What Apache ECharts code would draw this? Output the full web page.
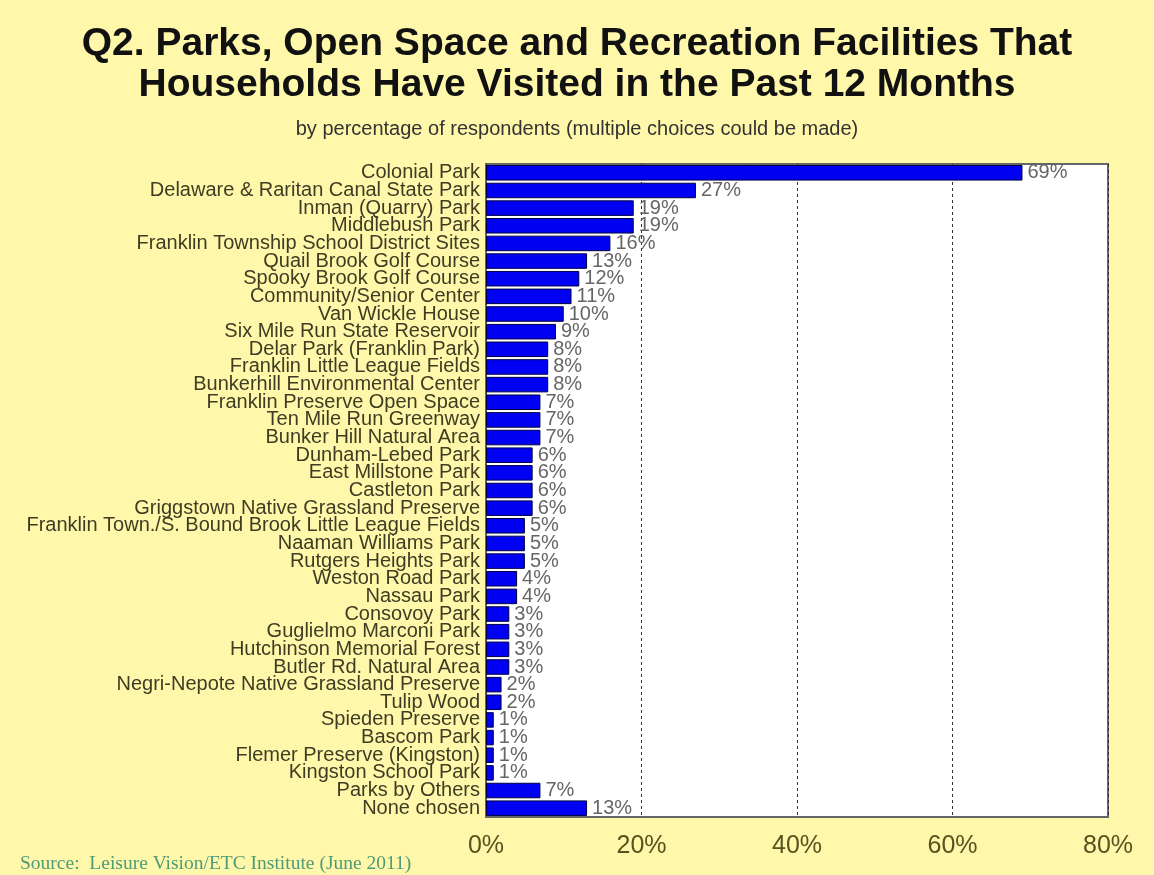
<!DOCTYPE html>
<html>
<head>
<meta charset="utf-8">
<script src="https://cdn.jsdelivr.net/npm/echarts@6/dist/echarts.min.js"></script>
<style>
  html, body { margin: 0; padding: 0; background: #fff7aa; }
  #chart { width: 1154px; height: 875px; }
</style>
</head>
<body>
<div id="chart"></div>
<script>
// Facilities visited, in display order (top to bottom)
const facilities = [
  'Colonial Park',
  'Delaware & Raritan Canal State Park',
  'Inman (Quarry) Park',
  'Middlebush Park',
  'Franklin Township School District Sites',
  'Quail Brook Golf Course',
  'Spooky Brook Golf Course',
  'Community/Senior Center',
  'Van Wickle House',
  'Six Mile Run State Reservoir',
  'Delar Park (Franklin Park)',
  'Franklin Little League Fields',
  'Bunkerhill Environmental Center',
  'Franklin Preserve Open Space',
  'Ten Mile Run Greenway',
  'Bunker Hill Natural Area',
  'Dunham-Lebed Park',
  'East Millstone Park',
  'Castleton Park',
  'Griggstown Native Grassland Preserve',
  'Franklin Town./S. Bound Brook Little League Fields',
  'Naaman Williams Park',
  'Rutgers Heights Park',
  'Weston Road Park',
  'Nassau Park',
  'Consovoy Park',
  'Guglielmo Marconi Park',
  'Hutchinson Memorial Forest',
  'Butler Rd. Natural Area',
  'Negri-Nepote Native Grassland Preserve',
  'Tulip Wood',
  'Spieden Preserve',
  'Bascom Park',
  'Flemer Preserve (Kingston)',
  'Kingston School Park',
  'Parks by Others',
  'None chosen'
];

// Percentage of respondent households
const percentVisited = [
  69, 27, 19, 19, 16, 13, 12, 11, 10, 9,
  8, 8, 8, 7, 7, 7, 6, 6, 6, 6,
  5, 5, 5, 4, 4, 3, 3, 3, 3, 2,
  2, 1, 1, 1, 1, 7, 13
];

// Value axis ticks
const axisMin = 0;
const axisMax = 80;
const axisStep = 20;

const chart = echarts.init(document.getElementById('chart'));

chart.setOption({
  backgroundColor: '#fff7aa',
  animation: false,
  title: [
    {
      text: 'Q2. Parks, Open Space and Recreation Facilities That\nHouseholds Have Visited in the Past 12 Months',
      left: 'center',
      top: 19,
      textStyle: {
        fontFamily: 'Liberation Sans, Arial, sans-serif',
        fontSize: 39,
        fontWeight: 'bold',
        color: '#111',
        lineHeight: 41
      }
    },
    {
      text: 'by percentage of respondents (multiple choices could be made)',
      left: 'center',
      top: 114,
      textStyle: {
        fontFamily: 'Liberation Sans, Arial, sans-serif',
        fontSize: 20,
        fontWeight: 'normal',
        color: '#333'
      }
    },
    {
      text: 'Source:  Leisure Vision/ETC Institute (June 2011)',
      left: 15,
      top: 849,
      textStyle: {
        fontFamily: 'Liberation Serif, Times New Roman, serif',
        fontSize: 19.5,
        fontWeight: 'normal',
        color: '#4f9a78'
      }
    }
  ],
  grid: {
    left: 486,
    right: 46,
    top: 164,
    bottom: 58,
    show: true,
    backgroundColor: '#ffffff',
    borderColor: '#666',
    borderWidth: 2
  },
  xAxis: {
    type: 'value',
    min: axisMin,
    max: axisMax,
    interval: axisStep,
    axisLine: { show: false },
    axisTick: { show: false },
    axisLabel: {
      formatter: '{value}%',
      fontFamily: 'Liberation Sans, Arial, sans-serif',
      fontSize: 25,
      color: '#55531f',
      margin: 17
    },
    splitLine: {
      show: true,
      lineStyle: { color: '#333', type: [3, 3], width: 1 }
    }
  },
  yAxis: {
    type: 'category',
    inverse: true,
    data: facilities,
    axisLine: { show: false },
    axisTick: { show: false },
    axisLabel: {
      interval: 0,
      fontFamily: 'Liberation Sans, Arial, sans-serif',
      fontSize: 20,
      color: '#3e3d24',
      margin: 6
    }
  },
  series: [
    {
      type: 'bar',
      data: percentVisited,
      barCategoryGap: '12%',
      itemStyle: {
        color: '#0000f2',
        borderColor: '#000040',
        borderWidth: 1
      },
      label: {
        show: true,
        position: 'right',
        distance: 5,
        formatter: '{c}%',
        fontFamily: 'Liberation Sans, Arial, sans-serif',
        fontSize: 20,
        color: '#666'
      }
    }
  ]
});
</script>
</body>
</html>
